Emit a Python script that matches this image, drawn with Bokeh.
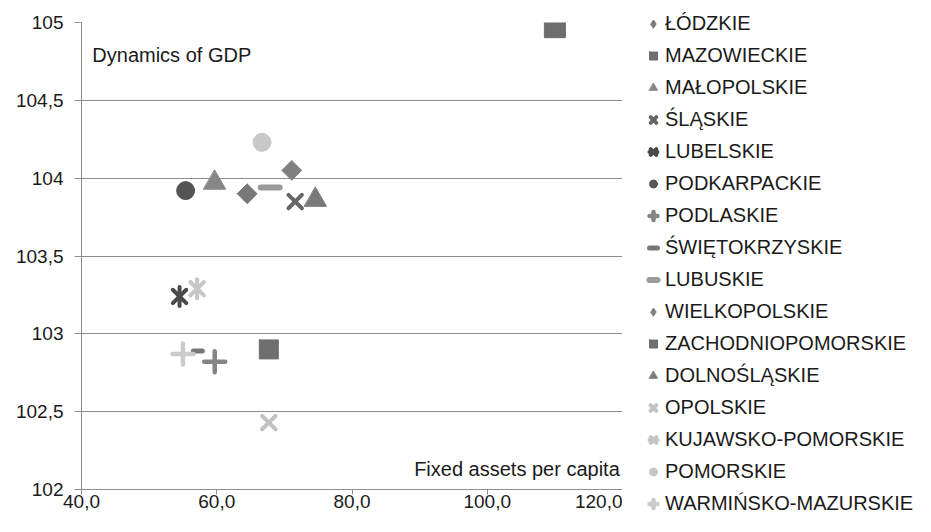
import math
from bokeh.plotting import figure
from bokeh.layouts import row
from bokeh.models import Legend, LegendItem, FixedTicker, Label
from bokeh.embed import file_html
from bokeh.resources import INLINE

regions = ["ŁÓDZKIE", "MAZOWIECKIE", "MAŁOPOLSKIE", "ŚLĄSKIE", "LUBELSKIE",
           "PODKARPACKIE", "PODLASKIE", "ŚWIĘTOKRZYSKIE", "LUBUSKIE", "WIELKOPOLSKIE",
           "ZACHODNIOPOMORSKIE", "DOLNOŚLĄSKIE", "OPOLSKIE", "KUJAWSKO-POMORSKIE",
           "POMORSKIE", "WARMIŃSKO-MAZURSKIE"]
fixed_assets_per_capita = [64.5, 110.0, 59.7, 71.6, 54.5, 55.4, 59.7, 57.2, 67.9, 71.1,
                           67.7, 74.6, 67.7, 57.1, 66.7, 55.0]
gdp_dynamics = [103.90, 104.97, 103.97, 103.85, 103.24, 103.92, 102.82, 102.89, 103.94, 104.05,
                102.90, 103.86, 102.43, 103.29, 104.23, 102.87]

x_tick_values = [40, 60, 80, 100, 120]
x_tick_labels = ["40,0", "60,0", "80,0", "100,0", "120,0"]
y_tick_values = [102, 102.5, 103, 103.5, 104, 104.5, 105]
y_tick_labels = ["102", "102,5", "103", "103,5", "104", "104,5", "105"]

FONT = "Liberation Sans"
D = math.pi / 4
# plot marker, legend marker, size, colour, angle, line width
# "star" = Excel-style star marker (an x with a vertical bar)
styles = [
    ("square", "diamond", 14, "#787878", D, 1),
    ("square", "square", 21, "#6e6e6e", 0, 1),
    ("triangle", "triangle", 22, "#868686", 0, 1),
    ("x", "x", 19, "#666666", 0, 4),
    ("star", "star", 19, "#4a4a4a", 0, 4),
    ("circle", "circle", 18, "#555555", 0, 1),
    ("cross", "cross", 21, "#858585", 0, 4.5),
    ("dash", "dash", 9, "#777777", 0, 5),
    ("dash", "dash", 19, "#9a9a9a", 0, 6),
    ("square", "diamond", 14, "#808080", D, 1),
    ("square", "square", 19, "#6e6e6e", 0, 1),
    ("triangle", "triangle", 22, "#7a7a7a", 0, 1),
    ("x", "x", 19, "#c2c2c2", 0, 4),
    ("star", "star", 19, "#c6c6c6", 0, 4),
    ("circle", "circle", 18, "#c8c8c8", 0, 1),
    ("cross", "cross", 21, "#cbcbcb", 0, 4.5),
]

p = figure(width=622, height=516, x_range=(40, 120), y_range=(102, 105),
           output_backend="svg", toolbar_location=None,
           min_border_left=81, min_border_right=0, min_border_top=22, min_border_bottom=27)
p.outline_line_color = None
p.background_fill_color = "white"
p.border_fill_color = "white"
p.xgrid.visible = False
p.ygrid.grid_line_color = "#8e8e8e"
p.ygrid.grid_line_width = 1

p.xaxis.ticker = FixedTicker(ticks=x_tick_values)
p.xaxis.major_label_overrides = dict(zip(x_tick_values, x_tick_labels))
p.yaxis.ticker = FixedTicker(ticks=y_tick_values)
p.yaxis.major_label_overrides = dict(zip(y_tick_values, y_tick_labels))
for ax in (p.xaxis, p.yaxis):
    ax.axis_line_color = "#8e8e8e"
    ax.major_tick_line_color = "#8e8e8e"
    ax.minor_tick_line_color = None
    ax.major_tick_in = 0
    ax.major_label_text_font = FONT
    ax.major_label_text_font_size = "19px"
    ax.major_label_text_color = "#1a1a1a"
p.xaxis.major_tick_out = 5
p.xaxis.major_label_standoff = 0
p.yaxis.major_tick_out = 7
p.yaxis.major_label_standoff = 11

# legend panel: a second figure whose ranges exclude the data, so only the legend shows
lg = figure(width=293, height=516, x_range=(0, 1), y_range=(0, 1),
            output_backend="svg", toolbar_location=None,
            min_border=0, min_border_left=0, min_border_right=0,
            min_border_top=0, min_border_bottom=0)
lg.axis.visible = False
lg.grid.visible = False
lg.outline_line_color = None
lg.border_fill_color = "white"
for fig in (p, lg):
    if "frame_align" in fig.properties():
        fig.frame_align = False


def draw(fig, marker, x, y, size, color, angle, lw):
    kw = dict(size=size, fill_color=color, line_color=color, line_width=lw, line_cap="round")
    if marker == "star":
        r1 = fig.scatter(x=x, y=y, marker="x", **kw)
        r2 = fig.scatter(x=x, y=y, marker="dash", angle=math.pi / 2, **kw)
        return [r1, r2]
    return [fig.scatter(x=x, y=y, marker=marker, angle=angle, **kw)]


items = []
for i, name in enumerate(regions):
    marker, lmarker, size, color, angle, lw = styles[i]
    xs, ys = [fixed_assets_per_capita[i]], [gdp_dynamics[i]]
    draw(p, marker, xs, ys, size, color, angle, lw)
    rs = draw(lg, lmarker, xs, ys, size, color, 0, lw)
    items.append(LegendItem(label=name, renderers=rs))

legend = Legend(items=items, location=(21, 0), orientation="vertical",
                glyph_width=20, glyph_height=25, label_height=25, spacing=7,
                label_standoff=2, padding=0, margin=0,
                label_text_font=FONT, label_text_font_size="20px",
                label_text_color="#1a1a1a",
                border_line_alpha=0, background_fill_alpha=0)
lg.add_layout(legend)

p.add_layout(Label(x=41.6, y=104.79, text="Dynamics of GDP", text_font=FONT,
                   text_font_size="20px", text_color="#1a1a1a", text_baseline="alphabetic"))
p.add_layout(Label(x=119.6, y=102.13, text="Fixed assets per capita", text_font=FONT,
                   text_font_size="20px", text_color="#1a1a1a", text_baseline="alphabetic",
                   text_align="right"))

layout = row(p, lg)
open("out.html", "w").write(file_html(layout, INLINE))
